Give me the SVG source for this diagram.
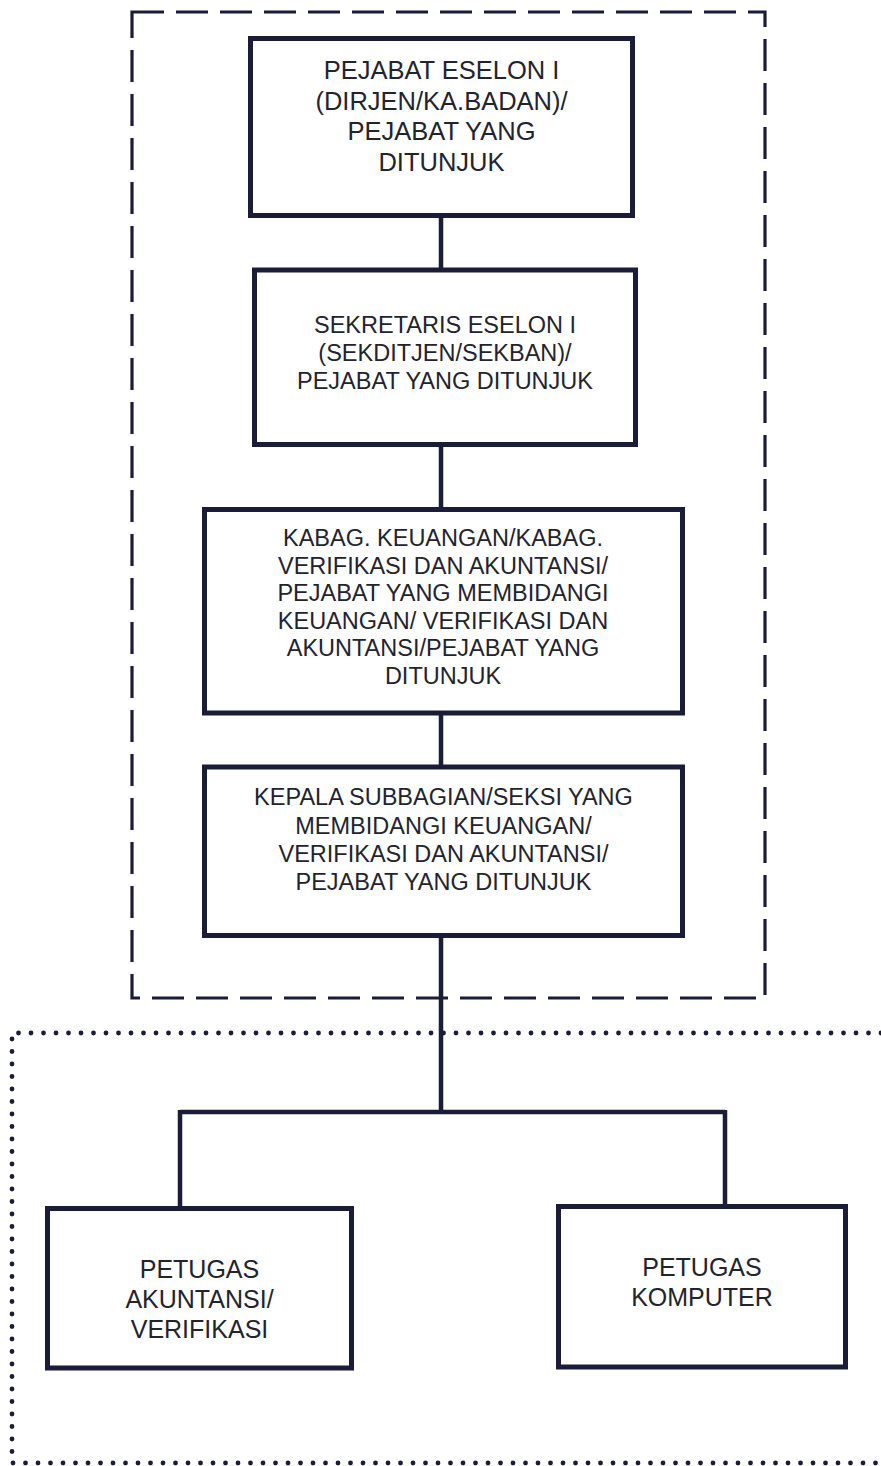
<svg xmlns="http://www.w3.org/2000/svg" width="881" height="1466" viewBox="0 0 881 1466">
<style>
.box{fill:#fff;stroke:#1b1c38;stroke-width:5}
.t{font-family:"Liberation Sans",Arial,sans-serif;fill:#23232e;text-anchor:middle}
.c{fill:none;stroke:#1b1c38;stroke-width:4.5}
.dash{fill:none;stroke:#1b1c38;stroke-width:3.2;stroke-dasharray:32 12}
.dot{fill:none;stroke:#1b1c38;stroke-width:4.8;stroke-linecap:round;stroke-dasharray:0 12.5}
</style>
<rect width="881" height="1466" fill="#fff"/>
<g id="groups">
<rect class="dash" x="132" y="12" width="633" height="986"/>
<path class="dot" d="M881,1033 H12 V1463 H881"/>
</g>
<g id="connectors">
<path class="c" d="M441,215 V270 M441,444 V509 M441,713 V767 M441,935 V1112 M180,1112 H725 M180,1110 V1208 M725,1110 V1206"/>
</g>
<g id="n1">
<rect class="box" x="250.5" y="38.5" width="382" height="177"/>
<text class="t" font-size="25.5" x="441.5"><tspan x="441.5" y="79">PEJABAT ESELON I</tspan><tspan x="441.5" y="109.5">(DIRJEN/KA.BADAN)/</tspan><tspan x="441.5" y="140">PEJABAT YANG</tspan><tspan x="441.5" y="170.5">DITUNJUK</tspan></text>
</g>
<g id="n2">
<rect class="box" x="254.5" y="270" width="381" height="174.5"/>
<text class="t" font-size="23.5" x="445"><tspan x="445" y="333">SEKRETARIS ESELON I</tspan><tspan x="445" y="361">(SEKDITJEN/SEKBAN)/</tspan><tspan x="445" y="389">PEJABAT YANG DITUNJUK</tspan></text>
</g>
<g id="n3">
<rect class="box" x="204.5" y="509.5" width="478" height="203.5"/>
<text class="t" font-size="23.5" x="443"><tspan x="443" y="546">KABAG. KEUANGAN/KABAG.</tspan><tspan x="443" y="573.5">VERIFIKASI DAN AKUNTANSI/</tspan><tspan x="443" y="601">PEJABAT YANG MEMBIDANGI</tspan><tspan x="443" y="628.5">KEUANGAN/ VERIFIKASI DAN</tspan><tspan x="443" y="656">AKUNTANSI/PEJABAT YANG</tspan><tspan x="443" y="683.5">DITUNJUK</tspan></text>
</g>
<g id="n4">
<rect class="box" x="204.5" y="767" width="478" height="168.5"/>
<text class="t" font-size="23.5" x="443.5"><tspan x="443.5" y="805">KEPALA SUBBAGIAN/SEKSI YANG</tspan><tspan x="443.5" y="833.5">MEMBIDANGI KEUANGAN/</tspan><tspan x="443.5" y="862">VERIFIKASI DAN AKUNTANSI/</tspan><tspan x="443.5" y="890">PEJABAT YANG DITUNJUK</tspan></text>
</g>
<g id="n5">
<rect class="box" x="47.5" y="1208.5" width="304" height="159.5"/>
<text class="t" font-size="25" x="199.5"><tspan x="199.5" y="1278">PETUGAS</tspan><tspan x="199.5" y="1308">AKUNTANSI/</tspan><tspan x="199.5" y="1338">VERIFIKASI</tspan></text>
</g>
<g id="n6">
<rect class="box" x="558.5" y="1206.5" width="287" height="160.5"/>
<text class="t" font-size="25" x="702"><tspan x="702" y="1276">PETUGAS</tspan><tspan x="702" y="1306">KOMPUTER</tspan></text>
</g>
</svg>
